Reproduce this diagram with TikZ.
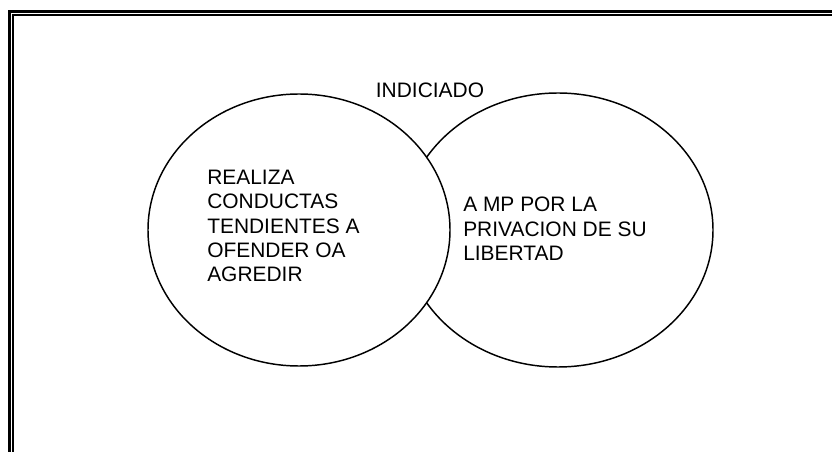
\documentclass[tikz,border=0pt]{standalone}
\usepackage{fontspec}
\setmainfont{Liberation Sans}
\usetikzlibrary{shapes.geometric}
\begin{document}
\begin{tikzpicture}[x=0.75pt,y=-0.75pt,
  venn/.style={draw=black,line width=1.1pt,fill=white,ellipse,inner sep=0pt},
  lbl/.style={font=\fontsize{15.7pt}{18.2pt}\selectfont,inner sep=0pt,align=left},
  frameout/.style={line width=2.4pt},
  framein/.style={line width=1.1pt}]
\useasboundingbox (0,0) rectangle (832,452);
\clip (0,0) rectangle (832,452);
% double frame
\draw[frameout] (9.5,460) -- (9.5,11.5) -- (840,11.5);
\draw[framein] (13,460) -- (13,14.8) -- (840,14.8);
% circles
\node[venn,minimum width=232.5pt,minimum height=205.5pt] (right) at (558,230) {};
\node[venn,minimum width=226.5pt,minimum height=204pt] (left) at (299,230) {};
% texts
\node[lbl,anchor=north] (title) at (430,83) {INDICIADO};
\node[lbl,anchor=north west] (ltext) at (207,170) {REALIZA\\CONDUCTAS\\TENDIENTES A\\OFENDER OA\\AGREDIR};
\node[lbl,anchor=north west] (rtext) at (463,197) {A MP POR LA\\PRIVACION DE SU\\LIBERTAD};
\end{tikzpicture}
\end{document}
